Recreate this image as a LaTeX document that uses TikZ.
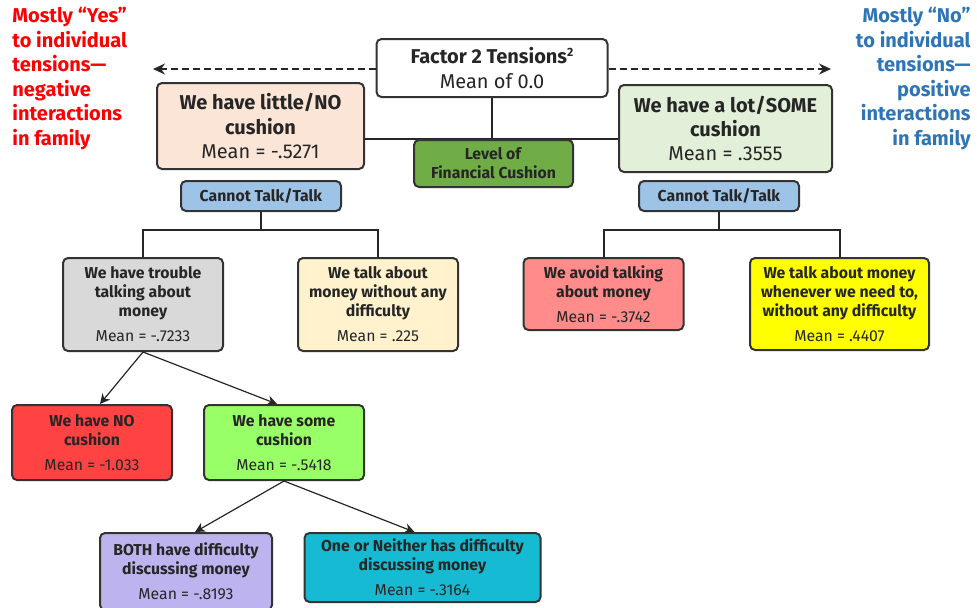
\documentclass[tikz,border=0pt]{standalone}
\usepackage{fontspec}
\setmainfont{Fira Sans}
\usetikzlibrary{arrows.meta}

\definecolor{peach}{HTML}{FBE5D6}
\definecolor{palegreen}{HTML}{E2F0D9}
\definecolor{levelgreen}{HTML}{70AD47}
\definecolor{talkblue}{HTML}{9DC3E6}
\definecolor{lightgray}{HTML}{D9D9D9}
\definecolor{cream}{HTML}{FFF2CC}
\definecolor{salmon}{HTML}{FF8B8B}
\definecolor{brightyellow}{HTML}{FFFF00}
\definecolor{brightred}{HTML}{FF4242}
\definecolor{limegreen}{HTML}{99FF66}
\definecolor{lavender}{HTML}{BDB4EF}
\definecolor{cyanbox}{HTML}{17BAD3}
\definecolor{yesred}{HTML}{FF0000}
\definecolor{noblue}{HTML}{2E75B6}

\begin{document}
\begin{tikzpicture}[x=0.5pt,y=-0.5pt,
    box/.style={draw=black!80, line width=1pt, rounded corners=2.5pt, align=center, inner sep=1pt, text=black!85},
    bigtxt/.style={font=\fontsize{10}{12.2}\selectfont},
    smalltxt/.style={font=\fontsize{7.9}{9.5}\selectfont},
    conn/.style={line width=1pt, draw=black!85},
    arr/.style={line width=0.6pt, draw=black!85, -{Stealth[length=5pt,width=5pt]}},
    side/.style={font=\bfseries\fontsize{10}{12.25}\selectfont, inner sep=0pt}]

    \useasboundingbox (0,0) rectangle (977,607);

    % Side notes
    \node[side, text=yesred, anchor=north west, align=left] (yesNote) at (12,7)
        {Mostly “Yes”\\to individual\\tensions—\\negative\\interactions\\in family};
    \node[side, text=noblue, anchor=north east, align=right] (noNote) at (971,7)
        {Mostly “No”\\to individual\\tensions—\\positive\\interactions\\in family};

    % Top level
    \node[box, bigtxt, fill=white, minimum width=115.5pt, minimum height=29pt] (factor) at (492,68)
        {\textbf{Factor 2 Tensions{\fontsize{6}{6}\selectfont\raisebox{3.5pt}{2}}}\\Mean of 0.0};
    \node[box, bigtxt, fill=peach, minimum width=103.5pt, minimum height=43pt] (noCush) at (260.5,126)
        {\textbf{We have little/NO}\\\textbf{cushion}\\Mean = -.5271};
    \node[box, bigtxt, fill=palegreen, minimum width=106.5pt, minimum height=43.5pt] (someCush) at (725.5,128.5)
        {\textbf{We have a lot/SOME}\\\textbf{cushion}\\Mean = .3555};

    % Level of cushion split
    \draw[conn] (factor.south) -- (factor.south |- 0,139);
    \draw[conn] (noCush.east |- 0,139) -- (someCush.west |- 0,139);
    \node[box, smalltxt, fill=levelgreen, minimum width=79.5pt, minimum height=23.5pt] (level) at (493.5,163.5)
        {\textbf{Level of}\\\textbf{Financial Cushion}};

    % Dashed direction arrows
    \coordinate (yesEnd) at (153,69);
    \coordinate (noEnd) at (831,69);
    \draw[conn, line width=0.7pt, dash pattern=on 3.5pt off 2pt, -{Stealth[length=6pt,width=5.5pt]}] (factor.west |- yesEnd) -- (yesEnd);
    \draw[conn, line width=0.7pt, dash pattern=on 3.5pt off 2pt, -{Stealth[length=6pt,width=5.5pt]}] (factor.east |- noEnd) -- (noEnd);

    % Cannot Talk/Talk labels
    \node[box, smalltxt, fill=talkblue, minimum width=80pt, minimum height=15pt] (talkL) at (261,196)
        {\textbf{Cannot Talk/Talk}};
    \node[box, smalltxt, fill=talkblue, minimum width=80pt, minimum height=15pt] (talkR) at (719,196)
        {\textbf{Cannot Talk/Talk}};

    % Second level
    \node[box, smalltxt, fill=lightgray, minimum width=80pt, minimum height=46.5pt] (trouble) at (143,304.5)
        {\textbf{We have trouble}\\\textbf{talking about}\\\textbf{money}\\[3pt]Mean = -.7233};
    \node[box, smalltxt, fill=cream, minimum width=80pt, minimum height=46.5pt] (talkFree) at (378,304.5)
        {\textbf{We talk about}\\\textbf{money without any}\\\textbf{difficulty}\\[3pt]Mean = .225};
    \node[box, smalltxt, fill=salmon, minimum width=80pt, minimum height=36pt] (avoid) at (603.5,294)
        {\textbf{We avoid talking}\\\textbf{about money}\\[3pt]Mean = -.3742};
    \node[box, smalltxt, fill=brightyellow, minimum width=89.5pt, minimum height=46pt] (whenever) at (839.5,304)
        {\textbf{We talk about money}\\\textbf{whenever we need to,}\\\textbf{without any difficulty}\\[3pt]Mean = .4407};

    % Tree connectors
    \coordinate (barL) at (261,230);
    \coordinate (barR) at (719,230);
    \draw[conn] (talkL.south) -- (barL);
    \draw[conn] (trouble.north) |- (barL) -| (talkFree.north);
    \draw[conn] (talkR.south) -- (barR);
    \draw[conn] (avoid.north) |- (barR) -| (whenever.north);

    % Third level
    \node[box, smalltxt, fill=brightred, minimum width=80pt, minimum height=37.5pt] (noneC) at (92,442.5)
        {\textbf{We have NO}\\\textbf{cushion}\\[3pt]Mean = -1.033};
    \node[box, smalltxt, fill=limegreen, minimum width=80pt, minimum height=37.5pt] (someC) at (284,442.5)
        {\textbf{We have some}\\\textbf{cushion}\\[3pt]Mean = -.5418};
    \draw[arr] (trouble.south) -- ([xshift=4pt]noneC.north);
    \draw[arr] (trouble.south) -- ([xshift=-3.5pt]someC.north);

    % Fourth level
    \node[box, smalltxt, fill=lavender, minimum width=86pt, minimum height=38.5pt] (both) at (186,571.5)
        {\textbf{BOTH have difficulty}\\\textbf{discussing money}\\[3pt]Mean = -.8193};
    \node[box, smalltxt, fill=cyanbox, minimum width=118pt, minimum height=34.5pt] (oneNeither) at (422.5,567.5)
        {\textbf{One or Neither has difficulty}\\\textbf{discussing money}\\[3pt]Mean = -.3164};
    \draw[arr] (someC.south) -- ([xshift=4.5pt]both.north);
    \draw[arr] (someC.south) -- ([xshift=-4pt]oneNeither.north);
\end{tikzpicture}
\end{document}
